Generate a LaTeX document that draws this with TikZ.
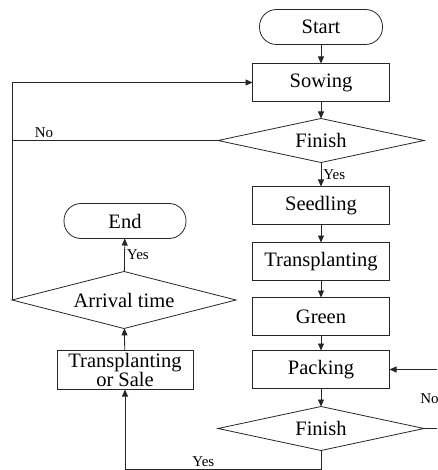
\documentclass[tikz,border=0pt]{standalone}
\usepackage{fontspec}
\setmainfont{Liberation Serif}
\usetikzlibrary{arrows.meta,positioning,shapes.geometric}

\begin{document}
\begin{tikzpicture}[x=1pt, y=-1pt, line width=0.8pt, draw=black!85,
  stepbox/.style={draw, minimum width=137pt, minimum height=38pt, inner sep=2pt,
                  outer sep=0pt, font=\fontsize{20.5}{20.5}\selectfont},
  term/.style={draw, rounded corners=17pt, minimum width=123pt, minimum height=35pt,
               outer sep=0pt, font=\fontsize{20.5}{20.5}\selectfont},
  test/.style={draw, diamond, aspect=4.7, minimum width=206pt, minimum height=44pt,
               inner sep=0pt, outer sep=0pt, font=\fontsize{20.5}{20.5}\selectfont},
  lbl/.style={font=\fontsize{15}{15}\selectfont, inner sep=2pt},
  arr/.style={-{Triangle[length=7pt, width=6pt]}}]
\useasboundingbox (0,0) rectangle (437,470);
\clip (0,0) rectangle (437,470);
% main column
\node[term] (start) at (321,27) {Start};
\node[stepbox, below=19pt of start] (sowing) {Sowing};
\node[test, below=17pt of sowing] (fin1) {Finish};
\node[stepbox, below=24pt of fin1] (seedling) {Seedling};
\node[stepbox, below=18pt of seedling] (transpl) {Transplanting};
\node[stepbox, below=17pt of transpl] (green) {Green};
\node[stepbox, below=15pt of green] (packing) {Packing};
\node[test, below=18pt of packing] (fin2) {Finish};
% left column
\node[term, minimum width=122pt] (finish) at (125,221) {End};
\node[test, aspect=3.9, minimum width=224pt, minimum height=57pt] (arrival) at (124,300) {Arrival time};
\node[stepbox, minimum width=136pt, minimum height=39pt, align=center,
      font=\fontsize{20.5}{18.5}\selectfont] (sale) at (125,370) {Transplanting\\or Sale};
% connectors
\draw[arr] (start) -- (sowing);
\draw[arr] (sowing) -- (fin1);
\draw[arr] (fin1) -- node[lbl, right]{Yes} (seedling);
\draw[arr] (seedling) -- (transpl);
\draw[arr] (transpl) -- (green);
\draw[arr] (green) -- (packing);
\draw[arr] (packing) -- (fin2);
\draw[arr] (fin2.south) -- ++(0,19) -| node[lbl, pos=0.3, above]{Yes} (sale.south);
\draw[arr] (fin2.east) -- ++(17,0) |- node[lbl, pos=0.25, left]{No} (packing.east);
\draw[arr] (sale) -- (arrival);
\draw[arr] (arrival) -- node[lbl, right]{Yes} (finish);
\draw[arr] (arrival.west) -- (arrival.west |- sowing) -- (sowing);
\draw (fin1.west) -- node[lbl, pos=0.845, above]{No} (fin1.west -| arrival.west);
\end{tikzpicture}
\end{document}
